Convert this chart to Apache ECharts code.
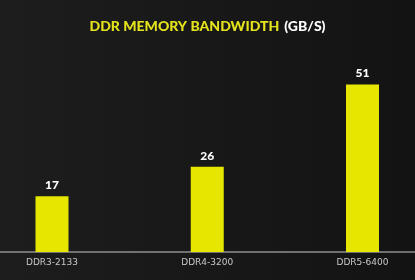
<!DOCTYPE html>
<html><head><meta charset="utf-8">
<script src="https://cdn.jsdelivr.net/npm/echarts@6/dist/echarts.min.js"></script>
<style>html,body{margin:0;padding:0;background:#171717}#c{width:415px;height:280px}</style>
</head><body><div id="c"></div>
<script>
var categories = ["DDR3-2133", "DDR4-3200", "DDR5-6400"];
var bandwidth = [17, 26, 51];
var titleMain = "DDR MEMORY BANDWIDTH";
var titleUnit = "(GB/S)";

var chart = echarts.init(document.getElementById('c'), null, {renderer: 'canvas'});
chart.setOption({
  animation: false,
  backgroundColor: new echarts.graphic.LinearGradient(0, 0, 1, 0, [
    {offset: 0, color: '#1d1d1d'}, {offset: 1, color: '#131313'}
  ]),
  title: {
    text: '{y|' + titleMain + '} {w|' + titleUnit + '}',
    left: 'center', top: 12,
    textStyle: {
      rich: {
        y: {color: '#e3e21c', fontSize: 14, fontWeight: 900, fontFamily: 'Lato'},
        w: {color: '#ffffff', fontSize: 14, fontWeight: 900, fontFamily: 'Lato'}
      }
    }
  },
  grid: [
    {left: 52, right: 52.5, top: 55, bottom: 28, containLabel: false},
    {left: 0, right: 0, top: 55, bottom: 28, containLabel: false}
  ],
  xAxis: [{
    type: 'category', data: categories, boundaryGap: false, gridIndex: 0,
    axisLine: {show: false},
    axisTick: {show: false},
    axisLabel: {color: '#c8c8c8', fontSize: 9, fontFamily: 'DejaVu Sans', margin: 6}
  }, {
    type: 'value', gridIndex: 1, min: 0, max: 1,
    axisLine: {show: true, lineStyle: {color: '#8f8f8f', width: 1.5}},
    axisTick: {show: false}, axisLabel: {show: false}, splitLine: {show: false}
  }],
  yAxis: [
    {type: 'value', min: 0, max: 60, show: false, splitLine: {show: false}, gridIndex: 0},
    {type: 'value', min: 0, max: 1, show: false, splitLine: {show: false}, gridIndex: 1}
  ],
  series: [{
    type: 'bar', data: bandwidth, barWidth: 33, xAxisIndex: 0, yAxisIndex: 0,
    itemStyle: {color: '#e6e600'},
    label: {show: true, position: 'top', distance: 5, color: '#ffffff',
      fontSize: 12, fontWeight: 900, fontFamily: 'Lato'}
  }]
});
</script></body></html>
